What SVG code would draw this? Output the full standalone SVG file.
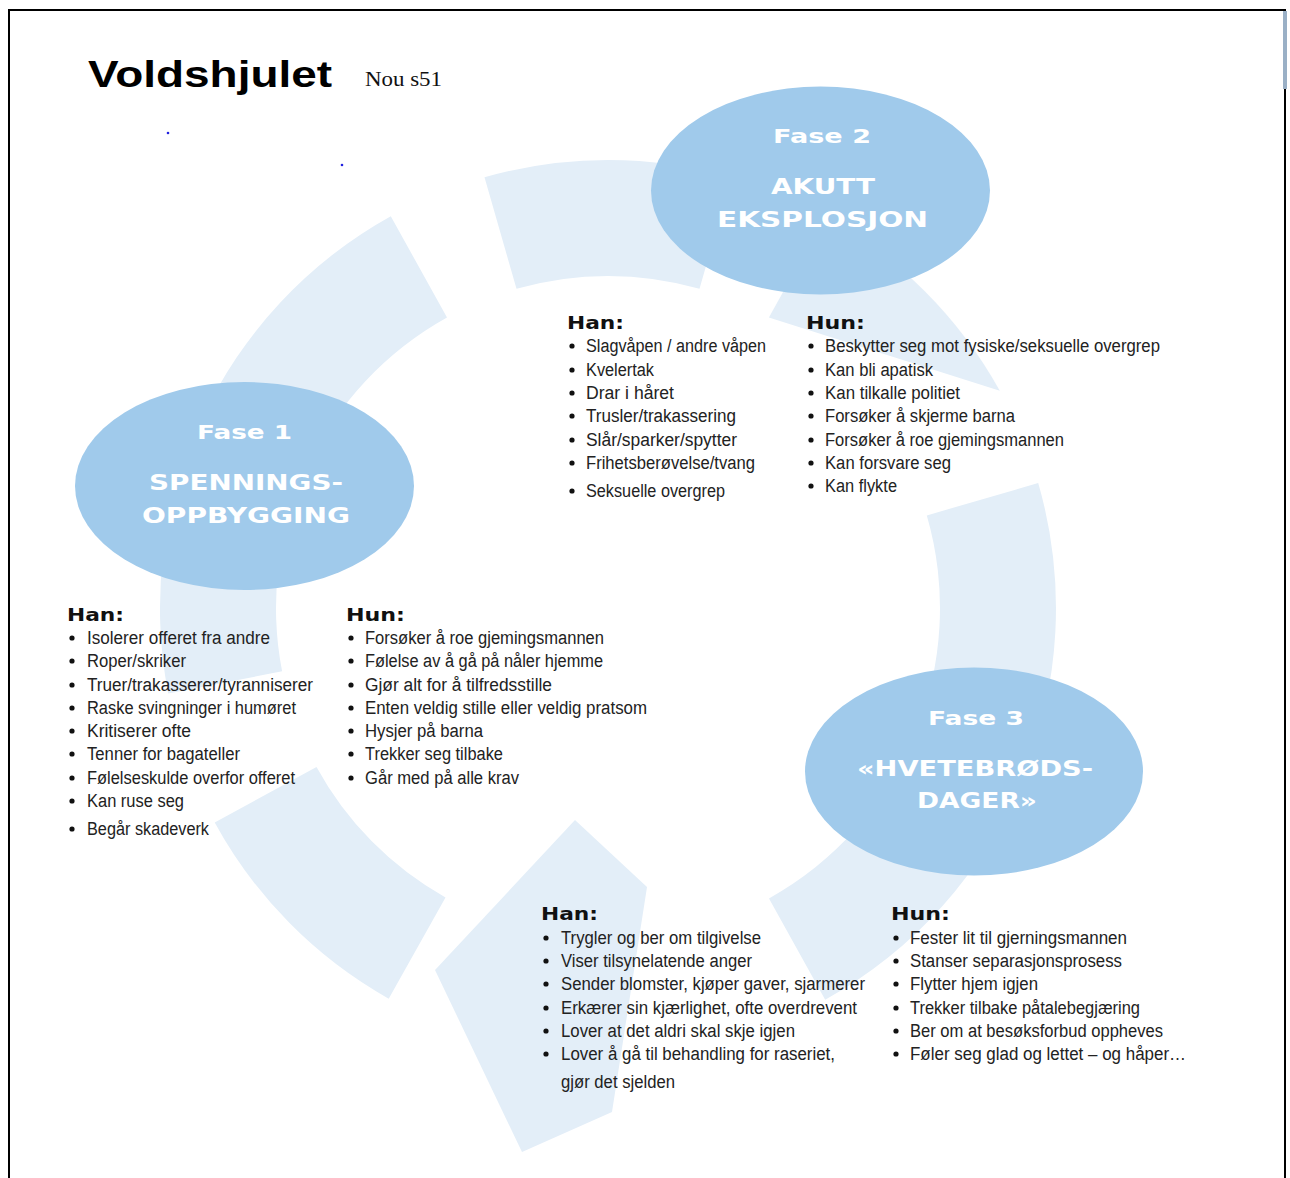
<svg xmlns="http://www.w3.org/2000/svg" width="1290" height="1178" viewBox="0 0 1290 1178">
<style>
.ring{fill:#E3EEF8}
.ell{fill:#A0CAEB}
.lbl{font-family:"DejaVu Sans","Liberation Sans",sans-serif;font-weight:bold;fill:#FFFFFF;text-anchor:middle}
.hd{font-family:"DejaVu Sans","Liberation Sans",sans-serif;font-weight:bold;font-size:18px;fill:#111111}
.it{font-family:"Liberation Sans","DejaVu Sans",sans-serif;font-size:18px;fill:#222222}
.bul{fill:#111111}
</style>
<rect x="0" y="0" width="1290" height="1178" fill="#FFFFFF"/>
<g id="page-border" stroke="#000000" stroke-width="2" fill="none">
<line x1="8" y1="10" x2="1286" y2="10"/>
<line x1="9" y1="10" x2="9" y2="1178"/>
<line x1="1285" y1="10" x2="1285" y2="1178"/>
</g>
<rect x="1283" y="11" width="4" height="78" fill="#9AB0C6"/>
<circle cx="168" cy="133" r="1.3" fill="#2020E0"/>
<circle cx="342" cy="165" r="1.3" fill="#2020E0"/>
<g id="title">
<text x="88" y="87" font-family="Liberation Sans, DejaVu Sans, sans-serif" font-weight="bold" font-size="37" textLength="244" lengthAdjust="spacingAndGlyphs" fill="#000000">Voldshjulet</text>
<text x="365" y="86" font-family="Liberation Serif, DejaVu Serif, serif" font-size="20" textLength="77" lengthAdjust="spacingAndGlyphs" fill="#111111">Nou s51</text>
</g>
<g id="connectors">
<path id="arc-top" class="ring" d="M484.5,177.3 A448,448 0 0 1 731.5,177.3 L699.5,288.8 A332,332 0 0 0 516.5,288.8 Z"/>
<path id="arc-top-right" class="ring" d="M768.9,317.6 L825.2,216.2 A448,448 0 0 1 999.8,390.8 Z"/>
<path id="arc-right" class="ring" d="M1038.2,483.0 A448,448 0 0 1 825.2,999.8 L769,898.4 A332,332 0 0 0 926.8,515.4 Z"/>
<path id="arrow-bottom" class="ring" d="M575,820 L647,887 L612,1112 L522,1152 L435,970 Z"/>
<path id="arc-lower-left" class="ring" d="M388.7,998.7 A448,448 0 0 1 214.7,822.5 L316.5,767 A332,332 0 0 0 445.5,897.5 Z"/>
<path id="arc-upper-left" class="ring" d="M168.2,693.5 A448,448 0 0 1 390.8,216.2 L447,317.6 A332,332 0 0 0 282.1,671.3 Z"/>
</g>
<g id="fase1">
<ellipse class="ell" cx="244.5" cy="486" rx="169.5" ry="104"/>
<text class="lbl" x="244.5" y="439" font-size="19" textLength="95" lengthAdjust="spacingAndGlyphs">Fase 1</text>
<text class="lbl" x="246" y="490" font-size="21" textLength="194" lengthAdjust="spacingAndGlyphs">SPENNINGS-</text>
<text class="lbl" x="246" y="523" font-size="21" textLength="208" lengthAdjust="spacingAndGlyphs">OPPBYGGING</text>
</g>
<g id="fase2">
<ellipse class="ell" cx="820.5" cy="190.5" rx="169.5" ry="104"/>
<text class="lbl" x="822" y="143" font-size="19" textLength="98" lengthAdjust="spacingAndGlyphs">Fase 2</text>
<text class="lbl" x="823" y="194" font-size="21" textLength="104" lengthAdjust="spacingAndGlyphs">AKUTT</text>
<text class="lbl" x="822.5" y="227" font-size="21" textLength="211" lengthAdjust="spacingAndGlyphs">EKSPLOSJON</text>
</g>
<g id="fase3">
<ellipse class="ell" cx="974" cy="771.5" rx="169" ry="104"/>
<text class="lbl" x="976" y="725" font-size="19" textLength="96" lengthAdjust="spacingAndGlyphs">Fase 3</text>
<text class="lbl" x="975" y="776" font-size="21" textLength="236" lengthAdjust="spacingAndGlyphs">«HVETEBRØDS-</text>
<text class="lbl" x="977" y="808" font-size="21" textLength="120" lengthAdjust="spacingAndGlyphs">DAGER»</text>
</g>
<g id="fase2-han">
<text class="hd" x="567" y="329" textLength="57" lengthAdjust="spacingAndGlyphs">Han:</text>
<g class="bul"><circle cx="572" cy="346" r="2.6"/><circle cx="572" cy="370" r="2.6"/><circle cx="572" cy="393" r="2.6"/><circle cx="572" cy="416" r="2.6"/><circle cx="572" cy="440" r="2.6"/><circle cx="572" cy="463" r="2.6"/><circle cx="572" cy="491" r="2.6"/></g>
<text class="it" x="586" y="352" textLength="180" lengthAdjust="spacingAndGlyphs">Slagvåpen / andre våpen</text>
<text class="it" x="586" y="376" textLength="68" lengthAdjust="spacingAndGlyphs">Kvelertak</text>
<text class="it" x="586" y="399" textLength="88" lengthAdjust="spacingAndGlyphs">Drar i håret</text>
<text class="it" x="586" y="422" textLength="150" lengthAdjust="spacingAndGlyphs">Trusler/trakassering</text>
<text class="it" x="586" y="446" textLength="151" lengthAdjust="spacingAndGlyphs">Slår/sparker/spytter</text>
<text class="it" x="586" y="469" textLength="169" lengthAdjust="spacingAndGlyphs">Frihetsberøvelse/tvang</text>
<text class="it" x="586" y="497" textLength="139" lengthAdjust="spacingAndGlyphs">Seksuelle overgrep</text>
</g>
<g id="fase2-hun">
<text class="hd" x="806" y="329" textLength="59" lengthAdjust="spacingAndGlyphs">Hun:</text>
<g class="bul"><circle cx="811" cy="346" r="2.6"/><circle cx="811" cy="370" r="2.6"/><circle cx="811" cy="393" r="2.6"/><circle cx="811" cy="416" r="2.6"/><circle cx="811" cy="440" r="2.6"/><circle cx="811" cy="463" r="2.6"/><circle cx="811" cy="486" r="2.6"/></g>
<text class="it" x="825" y="352" textLength="335" lengthAdjust="spacingAndGlyphs">Beskytter seg mot fysiske/seksuelle overgrep</text>
<text class="it" x="825" y="376" textLength="108" lengthAdjust="spacingAndGlyphs">Kan bli apatisk</text>
<text class="it" x="825" y="399" textLength="135" lengthAdjust="spacingAndGlyphs">Kan tilkalle politiet</text>
<text class="it" x="825" y="422" textLength="190" lengthAdjust="spacingAndGlyphs">Forsøker å skjerme barna</text>
<text class="it" x="825" y="446" textLength="239" lengthAdjust="spacingAndGlyphs">Forsøker å roe gjemingsmannen</text>
<text class="it" x="825" y="469" textLength="126" lengthAdjust="spacingAndGlyphs">Kan forsvare seg</text>
<text class="it" x="825" y="492" textLength="72" lengthAdjust="spacingAndGlyphs">Kan flykte</text>
</g>
<g id="fase1-han">
<text class="hd" x="67" y="621" textLength="57" lengthAdjust="spacingAndGlyphs">Han:</text>
<g class="bul"><circle cx="72" cy="638" r="2.6"/><circle cx="72" cy="661" r="2.6"/><circle cx="72" cy="685" r="2.6"/><circle cx="72" cy="708" r="2.6"/><circle cx="72" cy="731" r="2.6"/><circle cx="72" cy="754" r="2.6"/><circle cx="72" cy="778" r="2.6"/><circle cx="72" cy="801" r="2.6"/><circle cx="72" cy="829" r="2.6"/></g>
<text class="it" x="87" y="644" textLength="183" lengthAdjust="spacingAndGlyphs">Isolerer offeret fra andre</text>
<text class="it" x="87" y="667" textLength="99" lengthAdjust="spacingAndGlyphs">Roper/skriker</text>
<text class="it" x="87" y="691" textLength="226" lengthAdjust="spacingAndGlyphs">Truer/trakasserer/tyranniserer</text>
<text class="it" x="87" y="714" textLength="209" lengthAdjust="spacingAndGlyphs">Raske svingninger i humøret</text>
<text class="it" x="87" y="737" textLength="104" lengthAdjust="spacingAndGlyphs">Kritiserer ofte</text>
<text class="it" x="87" y="760" textLength="153" lengthAdjust="spacingAndGlyphs">Tenner for bagateller</text>
<text class="it" x="87" y="784" textLength="208" lengthAdjust="spacingAndGlyphs">Følelseskulde overfor offeret</text>
<text class="it" x="87" y="807" textLength="97" lengthAdjust="spacingAndGlyphs">Kan ruse seg</text>
<text class="it" x="87" y="835" textLength="122" lengthAdjust="spacingAndGlyphs">Begår skadeverk</text>
</g>
<g id="fase1-hun">
<text class="hd" x="346" y="621" textLength="59" lengthAdjust="spacingAndGlyphs">Hun:</text>
<g class="bul"><circle cx="351" cy="638" r="2.6"/><circle cx="351" cy="661" r="2.6"/><circle cx="351" cy="685" r="2.6"/><circle cx="351" cy="708" r="2.6"/><circle cx="351" cy="731" r="2.6"/><circle cx="351" cy="754" r="2.6"/><circle cx="351" cy="778" r="2.6"/></g>
<text class="it" x="365" y="644" textLength="239" lengthAdjust="spacingAndGlyphs">Forsøker å roe gjemingsmannen</text>
<text class="it" x="365" y="667" textLength="238" lengthAdjust="spacingAndGlyphs">Følelse av å gå på nåler hjemme</text>
<text class="it" x="365" y="691" textLength="187" lengthAdjust="spacingAndGlyphs">Gjør alt for å tilfredsstille</text>
<text class="it" x="365" y="714" textLength="282" lengthAdjust="spacingAndGlyphs">Enten veldig stille eller veldig pratsom</text>
<text class="it" x="365" y="737" textLength="118" lengthAdjust="spacingAndGlyphs">Hysjer på barna</text>
<text class="it" x="365" y="760" textLength="138" lengthAdjust="spacingAndGlyphs">Trekker seg tilbake</text>
<text class="it" x="365" y="784" textLength="154" lengthAdjust="spacingAndGlyphs">Går med på alle krav</text>
</g>
<g id="fase3-han">
<text class="hd" x="541" y="920" textLength="57" lengthAdjust="spacingAndGlyphs">Han:</text>
<g class="bul"><circle cx="546" cy="938" r="2.6"/><circle cx="546" cy="961" r="2.6"/><circle cx="546" cy="984" r="2.6"/><circle cx="546" cy="1008" r="2.6"/><circle cx="546" cy="1031" r="2.6"/><circle cx="546" cy="1054" r="2.6"/></g>
<text class="it" x="561" y="944" textLength="200" lengthAdjust="spacingAndGlyphs">Trygler og ber om tilgivelse</text>
<text class="it" x="561" y="967" textLength="191" lengthAdjust="spacingAndGlyphs">Viser tilsynelatende anger</text>
<text class="it" x="561" y="990" textLength="304" lengthAdjust="spacingAndGlyphs">Sender blomster, kjøper gaver, sjarmerer</text>
<text class="it" x="561" y="1014" textLength="296" lengthAdjust="spacingAndGlyphs">Erkærer sin kjærlighet, ofte overdrevent</text>
<text class="it" x="561" y="1037" textLength="234" lengthAdjust="spacingAndGlyphs">Lover at det aldri skal skje igjen</text>
<text class="it" x="561" y="1060" textLength="274" lengthAdjust="spacingAndGlyphs">Lover å gå til behandling for raseriet,</text>
<text class="it" x="561" y="1088" textLength="114" lengthAdjust="spacingAndGlyphs">gjør det sjelden</text>
</g>
<g id="fase3-hun">
<text class="hd" x="891" y="920" textLength="59" lengthAdjust="spacingAndGlyphs">Hun:</text>
<g class="bul"><circle cx="896" cy="938" r="2.6"/><circle cx="896" cy="961" r="2.6"/><circle cx="896" cy="984" r="2.6"/><circle cx="896" cy="1008" r="2.6"/><circle cx="896" cy="1031" r="2.6"/><circle cx="896" cy="1054" r="2.6"/></g>
<text class="it" x="910" y="944" textLength="217" lengthAdjust="spacingAndGlyphs">Fester lit til gjerningsmannen</text>
<text class="it" x="910" y="967" textLength="212" lengthAdjust="spacingAndGlyphs">Stanser separasjonsprosess</text>
<text class="it" x="910" y="990" textLength="128" lengthAdjust="spacingAndGlyphs">Flytter hjem igjen</text>
<text class="it" x="910" y="1014" textLength="230" lengthAdjust="spacingAndGlyphs">Trekker tilbake påtalebegjæring</text>
<text class="it" x="910" y="1037" textLength="253" lengthAdjust="spacingAndGlyphs">Ber om at besøksforbud oppheves</text>
<text class="it" x="910" y="1060" textLength="276" lengthAdjust="spacingAndGlyphs">Føler seg glad og lettet – og håper…</text>
</g>
</svg>
